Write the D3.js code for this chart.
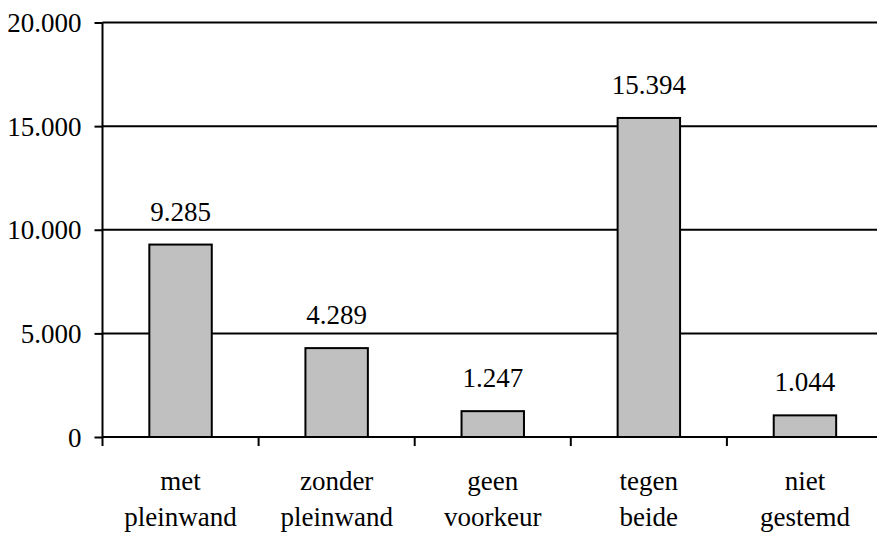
<!DOCTYPE html>
<style>
  body { margin: 0; background: #fff; }
  svg text { font-family: "Liberation Serif", "DejaVu Serif", serif; }
</style>
<svg width="877" height="535"></svg>
<script src="https://cdn.jsdelivr.net/npm/d3@7"></script>
<script>

  var categories = [["met", "pleinwand"], ["zonder", "pleinwand"], ["geen", "voorkeur"], ["tegen", "beide"], ["niet", "gestemd"]];
  var votes = [9285, 4289, 1247, 15394, 1044];
  var yTicks = [0, 5000, 10000, 15000, 20000];

  var svg = d3.select("svg");

  var nl = d3.formatLocale({ decimal: ",", thousands: ".", grouping: [3], currency: ["", ""] }),
    format = nl.format(",d");

  var x = d3.scaleBand()
    .domain(d3.range(categories.length))
    .range([102.5, 883])
    .paddingInner(0.6)
    .paddingOuter(0.3);

  var y = d3.scaleLinear()
    .domain([0, 20000])
    .range([437, 22.5]);

  // gridlines
  svg.append("g").selectAll("line")
    .data(yTicks.slice(1))
    .enter().append("line")
    .attr("x1", 102.5).attr("x2", 877)
    .attr("y1", function (d) { return y(d); })
    .attr("y2", function (d) { return y(d); })
    .attr("stroke", "#000").attr("stroke-width", 2);

  // y axis
  var yAxis = svg.append("g")
    .attr("transform", "translate(102.5,0)")
    .call(d3.axisLeft(y).tickValues(yTicks).tickFormat(format).tickSize(8).tickPadding(13));
  yAxis.attr("font-family", null);
  yAxis.select(".domain").attr("stroke-width", 2).attr("d", "M0," + y(0) + "V" + y(20000));
  yAxis.selectAll(".tick line").attr("stroke-width", 2);
  yAxis.selectAll("text").attr("font-size", 27).attr("dy", "0.34em");

  // x axis line and ticks at band edges
  var edges = d3.range(categories.length + 1).map(function (i) { return 102.5 + i * x.step(); });
  svg.append("line")
    .attr("x1", 102.5).attr("x2", 877)
    .attr("y1", y(0)).attr("y2", y(0))
    .attr("stroke", "#000").attr("stroke-width", 2);
  svg.append("g").selectAll("line")
    .data(edges)
    .enter().append("line")
    .attr("x1", function (d) { return d; }).attr("x2", function (d) { return d; })
    .attr("y1", y(0)).attr("y2", y(0) + 9)
    .attr("stroke", "#000").attr("stroke-width", 2);

  // bars
  svg.append("g").selectAll("rect")
    .data(votes)
    .enter().append("rect")
    .attr("x", function (d, i) { return x(i); })
    .attr("y", function (d) { return y(d); })
    .attr("width", x.bandwidth())
    .attr("height", function (d) { return y(0) - y(d); })
    .attr("fill", "#c0c0c0")
    .attr("stroke", "#000")
    .attr("stroke-width", 2);

  // value labels
  svg.append("g").selectAll("text")
    .data(votes)
    .enter().append("text")
    .attr("x", function (d, i) { return x(i) + x.bandwidth() / 2; })
    .attr("y", function (d) { return y(d) - 24; })
    .attr("text-anchor", "middle")
    .attr("font-size", 27)
    .text(function (d) { return format(d); });

  // category labels
  var cat = svg.append("g").selectAll("text")
    .data(categories)
    .enter().append("text")
    .attr("text-anchor", "middle")
    .attr("font-size", 27);
  cat.selectAll("tspan")
    .data(function (d, i) { return d.map(function (t) { return { t: t, i: i }; }); })
    .enter().append("tspan")
    .attr("x", function (d) { return x(d.i) + x.bandwidth() / 2; })
    .attr("y", function (d, j) { return 490 + j * 35.5; })
    .text(function (d) { return d.t; });

</script>
